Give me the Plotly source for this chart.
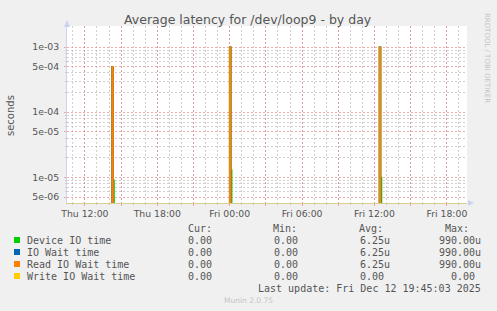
import plotly.graph_objects as go

# ---------------- data ----------------
times = ["2025-12-11 10:30", "2025-12-11 14:15", "2025-12-11 14:20", "2025-12-11 14:25",
         "2025-12-12 00:00", "2025-12-12 00:05", "2025-12-12 00:10",
         "2025-12-12 12:25", "2025-12-12 12:30", "2025-12-12 12:35", "2025-12-12 19:45"]
device_io = [0, 5.0e-4, 9e-6, 0, 9.9e-4, 1.3e-5, 0, 9.9e-4, 1.0e-5, 0, 0]
io_wait = [0, 5.0e-4, 0, 0, 9.9e-4, 0, 0, 9.9e-4, 0, 0, 0]
read_wait = [0, 5.0e-4, 0, 0, 9.9e-4, 0, 0, 9.9e-4, 0, 0, 0]
write_wait = [0, 0, 0, 0, 0, 0, 0, 0, 0, 0, 0]

series_names = ["Device IO time", "IO Wait time", "Read IO Wait time", "Write IO Wait time"]
series_colors = ["#00CC00", "#0066B3", "#FF8000", "#FFCC00"]
cur_vals = ["0.00", "0.00", "0.00", "0.00"]
min_vals = ["0.00", "0.00", "0.00", "0.00"]
avg_vals = ["6.25u", "6.25u", "6.25u", "0.00"]
max_vals = ["990.00u", "990.00u", "990.00u", "0.00"]

y_tick_vals = [5e-6, 1e-5, 5e-5, 1e-4, 5e-4, 1e-3]
y_tick_text = ["5e-06", "1e-05", "5e-05", "1e-04", "5e-04", "1e-03"]
y_minor_vals = [6e-6, 7e-6, 8e-6, 9e-6, 2e-5, 3e-5, 4e-5, 6e-5, 7e-5, 8e-5, 9e-5,
                2e-4, 3e-4, 4e-4, 6e-4, 7e-4, 8e-4, 9e-4]
x_tick_vals = ["2025-12-11 12:00", "2025-12-11 15:00", "2025-12-11 18:00", "2025-12-11 21:00",
               "2025-12-12 00:00", "2025-12-12 03:00", "2025-12-12 06:00", "2025-12-12 09:00",
               "2025-12-12 12:00", "2025-12-12 15:00", "2025-12-12 18:00"]
x_tick_text = ["Thu 12:00", "", "Thu 18:00", "", "Fri 00:00", "", "Fri 06:00", "",
               "Fri 12:00", "", "Fri 18:00"]
x_range = ["2025-12-11 10:31", "2025-12-12 19:40"]
y_range_log = [-5.393, -2.677]

title_text = "Average latency for /dev/loop9 - by day"
y_title = "seconds"
last_update = "Last update: Fri Dec 12 19:45:03 2025"
version_text = "Munin 2.0.75"
watermark = "RRDTOOL / TOBI OETIKER"

# ---------------- layout geometry ----------------
W, H = 497, 311
PL, PR, PT, PB = 67, 467, 26, 203
FLOOR = 1e-8


def px(x):
    return (x - PL) / (PR - PL)


def py(y):
    return (PB - y) / (PB - PT)


fig = go.Figure()
for name, vals, col in zip(series_names, [device_io, io_wait, read_wait, write_wait], series_colors):
    fig.add_trace(go.Scatter(
        x=times, y=[v if v > 0 else FLOOR for v in vals], mode="lines", name=name,
        line=dict(color=col, width=1.5, shape="hv"), showlegend=False, hoverinfo="skip"))

red_grid = "rgba(230,120,120,0.6)"
grey_grid = "rgba(150,150,150,0.45)"
tick_font = dict(family="DejaVu Sans", size=9.3, color="#555555")
dash = "2px,2px"

fig.update_layout(
    width=W, height=H,
    margin=dict(l=PL, r=W - PR, t=PT, b=H - PB, pad=0),
    paper_bgcolor="#F0F0F0", plot_bgcolor="#FFFFFF",
    showlegend=False,
    xaxis=dict(
        type="date", range=x_range, tickmode="array", tickvals=x_tick_vals, ticktext=x_tick_text,
        showgrid=True, gridcolor=red_grid, griddash=dash, gridwidth=1,
        ticks="outside", ticklen=2, tickcolor=red_grid,
        showline=True, linecolor="#D7CD8C", linewidth=1,
        tickfont=tick_font, zeroline=False, fixedrange=True,
        minor=dict(tickmode="linear", tick0="2025-12-11 12:00", dtick=3600000,
                   showgrid=True, gridcolor=grey_grid, griddash=dash, gridwidth=1,
                   ticks="outside", ticklen=1, tickcolor=grey_grid),
    ),
    yaxis=dict(
        type="log", range=y_range_log, tickmode="array", tickvals=y_tick_vals, ticktext=y_tick_text,
        showgrid=True, gridcolor=red_grid, griddash=dash, gridwidth=1,
        ticks="outside", ticklen=2, tickcolor=red_grid,
        showline=True, linecolor="#CCD3F2", linewidth=1,
        tickfont=tick_font, zeroline=False, fixedrange=True, ticklabelstandoff=3,
        minor=dict(tickmode="array", tickvals=y_minor_vals,
                   showgrid=True, gridcolor=grey_grid, griddash=dash, gridwidth=1,
                   ticks="outside", ticklen=1, tickcolor=grey_grid),
    ),
)

ann = []


def add_text(x, y, text, size, color, family="DejaVu Sans", xanchor="center", angle=0):
    ann.append(dict(x=px(x), y=py(y), xref="paper", yref="paper", text=text, showarrow=False,
                    xanchor=xanchor, yanchor="middle", textangle=angle, borderpad=0,
                    font=dict(family=family, size=size, color=color)))


add_text(248, 19, title_text, 12.5, "#555555")
add_text(11, 115, y_title, 10, "#555555", angle=-90)
add_text(487, 58, watermark, 7, "#C4C4C4", angle=90)
add_text(248, 300, version_text, 7.5, "#C4C4C4")

mono = "DejaVu Sans Mono"
mcol = "#555555"
add_text(213, 228, "Cur:", 10, mcol, mono, "right")
add_text(298, 228, "Min:", 10, mcol, mono, "right")
add_text(384, 228, "Avg:", 10, mcol, mono, "right")
add_text(470, 228, "Max:", 10, mcol, mono, "right")

row_y = [240, 252, 264, 276]
CH = 6.02
shapes = []
for i, (name, col) in enumerate(zip(series_names, series_colors)):
    yy = row_y[i]
    shapes.append(dict(type="rect", xref="paper", yref="paper",
                       x0=px(14), x1=px(20), y0=py(yy - 3), y1=py(yy + 3),
                       fillcolor=col, line=dict(width=0)))
    add_text(26, yy, name, 10, mcol, mono, "left")
    for val, right in ((cur_vals[i], 219), (min_vals[i], 305), (avg_vals[i], 391), (max_vals[i], 482)):
        r = right if val[-1].isalpha() else right - CH
        add_text(r, yy, val, 10, mcol, mono, "right")
add_text(482, 288, last_update, 10, mcol, mono, "right")

# axis arrows
arrow_col = "#CCD3F2"
shapes.append(dict(type="path", xref="paper", yref="paper",
                   path=f"M {px(64)},{py(27)} L {px(70)},{py(27)} L {px(67)},{py(20)} Z",
                   fillcolor=arrow_col, line=dict(width=0)))
shapes.append(dict(type="path", xref="paper", yref="paper",
                   path=f"M {px(468)},{py(200)} L {px(468)},{py(206)} L {px(474)},{py(203)} Z",
                   fillcolor=arrow_col, line=dict(width=0)))

fig.update_layout(annotations=ann, shapes=shapes)
fig.write_html("out.html")
